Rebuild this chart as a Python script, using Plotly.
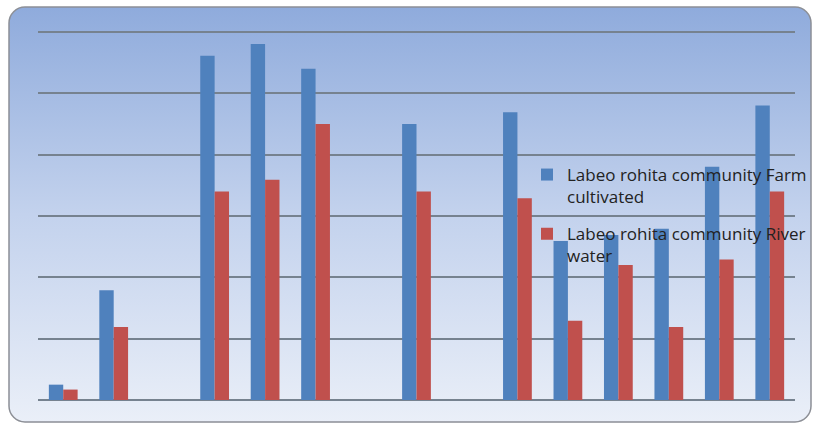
import base64
import plotly.graph_objects as go

categories = list(range(1, 16))
farm_cultivated = [0.25, 1.79, None, 5.61, 5.80, 5.40, None, 4.50, None, 4.69, 2.59, 2.69, 2.79, 3.80, 4.80]
river_water = [0.17, 1.19, None, 3.40, 3.59, 4.50, None, 3.40, None, 3.29, 1.29, 2.20, 1.19, 2.29, 3.40]
series_names = ["Labeo rohita community Farm<br>cultivated", "Labeo rohita community River<br>water"]

W, H = 816, 424
L, R, T, B = 38, 21, 30, 24
pw, ph = W - L - R, H - T - B

svg = f'''<svg xmlns="http://www.w3.org/2000/svg" width="804" height="417" viewBox="0 0 804 417">
<defs><linearGradient id="g" x1="0" y1="0" x2="0" y2="1">
<stop offset="0" stop-color="#8fabdc"/><stop offset="0.5" stop-color="#c3d2ed"/><stop offset="1" stop-color="#eaeff8"/>
</linearGradient></defs>
<rect x="1" y="1" width="802" height="415" rx="16" ry="16" fill="url(#g)" stroke="#8c8f96" stroke-width="1.5"/>
</svg>'''
src = "data:image/svg+xml;base64," + base64.b64encode(svg.encode()).decode()

fig = go.Figure()
fig.add_trace(go.Bar(x=categories, y=farm_cultivated, name=series_names[0], legendgroup="a",
                     marker=dict(color="#4f81bd", line=dict(width=0))))
fig.add_trace(go.Bar(x=categories, y=river_water, name=series_names[1], legendgroup="b",
                     marker=dict(color="#c0504d", line=dict(width=0))))

fig.add_layout_image(dict(
    source=src, xref="paper", yref="paper",
    x=(8 - L) / pw, y=(ph + T - 6) / ph,
    sizex=804 / pw, sizey=417 / ph,
    xanchor="left", yanchor="top", sizing="stretch", layer="below",
))

fig.update_layout(
    width=W, height=H,
    margin=dict(l=L, r=R, t=T, b=B, autoexpand=False),
    paper_bgcolor="white", plot_bgcolor="rgba(0,0,0,0)",
    barmode="group", bargap=0.43, bargroupgap=0,
    showlegend=True,
    legend=dict(x=(527 - L) / pw, y=(ph + T - 157) / ph, xanchor="left", yanchor="top",
                bgcolor="rgba(0,0,0,0)", font=dict(family="Open Sans", size=17, color="#222222"),
                itemsizing="constant", valign="top", traceorder="grouped", tracegroupgap=12),
    xaxis=dict(range=[0.5, 15.5], showticklabels=False, showgrid=False, zeroline=False, ticks=""),
    yaxis=dict(range=[0, 6.03], dtick=1, showticklabels=False, showgrid=True, gridcolor="#76828f",
               gridwidth=2, zeroline=True, zerolinecolor="#76828f", zerolinewidth=2, ticks=""),
)
fig.write_html("out.html")
